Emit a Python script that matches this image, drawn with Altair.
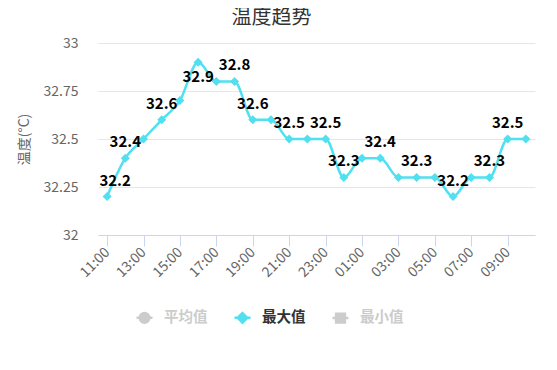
import altair as alt
import pandas as pd

# ---- data ----
hours = ["11:00", "12:00", "13:00", "14:00", "15:00", "16:00", "17:00", "18:00",
         "19:00", "20:00", "21:00", "22:00", "23:00", "00:00", "01:00", "02:00",
         "03:00", "04:00", "05:00", "06:00", "07:00", "08:00", "09:00", "10:00"]
max_vals = [32.2, 32.4, 32.5, 32.6, 32.7, 32.9, 32.8, 32.8,
            32.6, 32.6, 32.5, 32.5, 32.5, 32.3, 32.4, 32.4,
            32.3, 32.3, 32.3, 32.2, 32.3, 32.3, 32.5, 32.5]
labeled_hours = ["11:00", "12:00", "14:00", "16:00", "18:00", "19:00", "21:00",
                 "23:00", "00:00", "02:00", "04:00", "06:00", "08:00", "09:00"]
below_hours = ["16:00"]          # label flipped below the point
shifted_hours = ["11:00"]        # label nudged inside the plot
y_ticks = [32, 32.25, 32.5, 32.75, 33]
x_tick_labels = hours[::2]
legend_items = ["平均值", "最大值", "最小值"]
series_name = "最大值"

LINE = "#50e0f0"
GREY = "#cccccc"
FONT = "Noto Sans CJK SC"

legend_colors = [GREY, LINE, GREY]
legend_paths = [
    "M-1,0H1M-0.6,0A0.6,0.6 0 1,0 0.6,0A0.6,0.6 0 1,0 -0.6,0Z",
    "M-1,0H1M0,-0.6L0.6,0L0,0.6L-0.6,0Z",
    "M-1,0H1M-0.55,-0.55H0.55V0.55H-0.55Z",
]

df = pd.DataFrame({"hour": hours, "value": max_vals})
df["series"] = series_name
df["show"] = df["hour"].isin(labeled_hours)
df["below"] = df["hour"].isin(below_hours)
df["shift"] = df["hour"].isin(shifted_hours)

x_enc = alt.X(
    "hour:O", sort=hours,
    scale=alt.Scale(domain=hours, padding=0.5),
    axis=alt.Axis(values=x_tick_labels, labelAngle=-45, labelAlign="right",
                  labelBaseline="middle", tickSize=11, tickColor="#ccd6eb",
                  domainColor="#ccd6eb", labelColor="#666666", labelFontSize=14,
                  labelFont=FONT, grid=False, title=None, labelPadding=4),
)
y_enc = alt.Y(
    "value:Q",
    scale=alt.Scale(domain=[32, 33], nice=False, zero=False),
    axis=alt.Axis(values=y_ticks, format=".2~f", domain=False, ticks=False,
                  gridColor="#e6e6e6", labelPadding=20, labelColor="#666666",
                  labelFontSize=14, labelFont=FONT, title="温度(°C)",
                  titleColor="#666666", titleFontSize=14, titleFont=FONT,
                  titleFontWeight="normal", titlePadding=12),
)

base = alt.Chart(df)

line = base.mark_line(interpolate="monotone", color=LINE, strokeWidth=2.5).encode(x=x_enc, y=y_enc)
points = base.mark_point(shape="diamond", filled=True, size=81, color=LINE, opacity=1).encode(x=x_enc, y=y_enc)

text_style = dict(baseline="alphabetic", fontWeight="bold", fontSize=15, color="black", font=FONT)
text_enc = dict(x=x_enc, y=y_enc, text=alt.Text("value:Q", format=".1f"))

labels_above = base.transform_filter("datum.show && !datum.below && !datum.shift").mark_text(
    dy=-11, **text_style).encode(**text_enc)
labels_shifted = base.transform_filter("datum.show && datum.shift").mark_text(
    dy=-11, dx=8, **text_style).encode(**text_enc)
labels_below = base.transform_filter("datum.show && datum.below").mark_text(
    dy=20, **text_style).encode(**text_enc)

leg = alt.Legend(
    orient="none", legendX=37, legendY=265, direction="horizontal", title=None,
    symbolSize=256, symbolStrokeWidth=2.5, labelFontSize=14.5, labelFontWeight="bold",
    labelFont=FONT, labelColor={"expr": "datum.label == '最大值' ? '#333333' : '#cccccc'"},
    columnPadding=21, labelOffset=10, symbolOpacity=1,
)
legend_layer = base.transform_filter("false").mark_point(filled=True).encode(
    fill=alt.Fill("series:N", scale=alt.Scale(domain=legend_items, range=legend_colors), legend=leg),
    stroke=alt.Stroke("series:N", scale=alt.Scale(domain=legend_items, range=legend_colors), legend=leg),
    shape=alt.Shape("series:N", scale=alt.Scale(domain=legend_items, range=legend_paths), legend=leg),
)

chart = alt.layer(line, points, labels_above, labels_shifted, labels_below, legend_layer).properties(
    width=437, height=192,
    padding={"left": 90, "top": 35, "right": 14, "bottom": 127},
    autosize=alt.AutoSizeParams(type="none"),
    title=alt.TitleParams("温度趋势", font=FONT, fontSize=20, fontWeight="normal",
                          color="#333333", anchor="middle", dx=-45, offset=-8,
                          baseline="alphabetic"),
).configure_view(stroke=None)

chart.save("out.html", embed_options={"renderer": "svg", "actions": False})
